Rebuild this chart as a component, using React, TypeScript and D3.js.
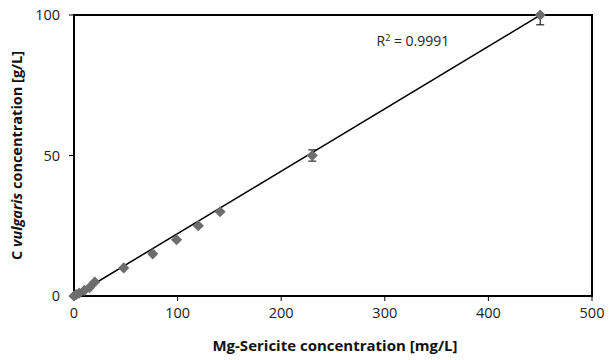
import React from "react";
import * as d3 from "d3";

const xValues = [0, 2, 5, 10, 15, 20, 48, 76, 99, 120, 141, 230, 450];
const yValues = [0, 0.5, 1, 2, 3, 5, 10, 15, 20, 25, 30, 50, 100];
const yErrors = [0, 0, 0, 0, 0, 0, 0, 0, 0, 0, 0, 2, 3.5];
const xTicks = [0, 100, 200, 300, 400, 500];
const yTicks = [0, 50, 100];
const fitSlope = 0.2221;
const fitIntercept = 0;
const fitRange = [0, 450];
const r2Label = "0.9991";

const W = 609, H = 360;
const M = { left: 74, right: 17, top: 15, bottom: 64 };
const FONT = "'Open Sans', 'DejaVu Sans', sans-serif";

export default function App() {
  const x = d3.scaleLinear().domain([0, 500]).range([M.left, W - M.right]);
  const y = d3.scaleLinear().domain([0, 100]).range([H - M.bottom, M.top]);
  const line = d3.line<number>().x(d => x(d)).y(d => y(fitSlope * d + fitIntercept));
  const diamond = d3.symbol().type(d3.symbolSquare).size(62)();
  return (
    <svg width={W} height={H} style={{ position: "absolute", left: 0, top: 0, background: "#fff" }}>
      <defs>
        <clipPath id="plot">
          <rect x={x(0)} y={y(100)} width={x(500) - x(0)} height={y(0) - y(100)} />
        </clipPath>
      </defs>
      <rect x={x(0)} y={y(100)} width={x(500) - x(0)} height={y(0) - y(100)} fill="none" stroke="#000" strokeWidth={2} />
      {xTicks.map(t => (
        <g key={"x" + t}>
          <line x1={x(t)} x2={x(t)} y1={y(0)} y2={y(0) + 5} stroke="#000" />
          <text x={x(t)} y={y(0) + 22} textAnchor="middle" fontFamily={FONT} fontSize={14.5} fill="#222">{t}</text>
        </g>
      ))}
      {yTicks.map(t => (
        <g key={"y" + t}>
          <line x1={x(0) - 5} x2={x(0)} y1={y(t)} y2={y(t)} stroke="#000" />
          <text x={x(0) - 14} y={y(t) + 5} textAnchor="end" fontFamily={FONT} fontSize={14.5} fill="#222">{t}</text>
        </g>
      ))}
      <path d={line(fitRange) ?? ""} stroke="#000" strokeWidth={1.5} fill="none" />
      {xValues.map((xv, i) => (
        <g key={"p" + i}>
          {yErrors[i] > 0 && (
            <g stroke="#000" strokeWidth={1} clipPath="url(#plot)">
              <line x1={x(xv)} x2={x(xv)} y1={y(yValues[i] - yErrors[i])} y2={y(yValues[i] + yErrors[i])} />
              <line x1={x(xv) - 4} x2={x(xv) + 4} y1={y(yValues[i] - yErrors[i])} y2={y(yValues[i] - yErrors[i])} />
              <line x1={x(xv) - 4} x2={x(xv) + 4} y1={y(yValues[i] + yErrors[i])} y2={y(yValues[i] + yErrors[i])} />
            </g>
          )}
          <path d={diamond ?? ""} transform={`translate(${x(xv)},${y(yValues[i])}) rotate(45)`} fill="#6d6d6d" />
        </g>
      ))}
      <text x={x(292)} y={46} fontFamily={FONT} fontSize={14} fill="#222">
        R<tspan dy={-5} fontSize={9}>2</tspan><tspan dy={5}> = {r2Label}</tspan>
      </text>
      <text x={(x(0) + x(500)) / 2 + 2} y={H - 9} textAnchor="middle" fontFamily={FONT} fontSize={15} fontWeight="bold" fill="#111">
        Mg-Sericite concentration [mg/L]
      </text>
      <text transform={`translate(22,${(y(0) + y(100)) / 2}) rotate(-90)`} textAnchor="middle" fontFamily={FONT} fontSize={14.5} fontWeight="bold" fill="#111">
        C <tspan fontStyle="italic">vulgaris</tspan> concentration [g/L]
      </text>
    </svg>
  );
}
